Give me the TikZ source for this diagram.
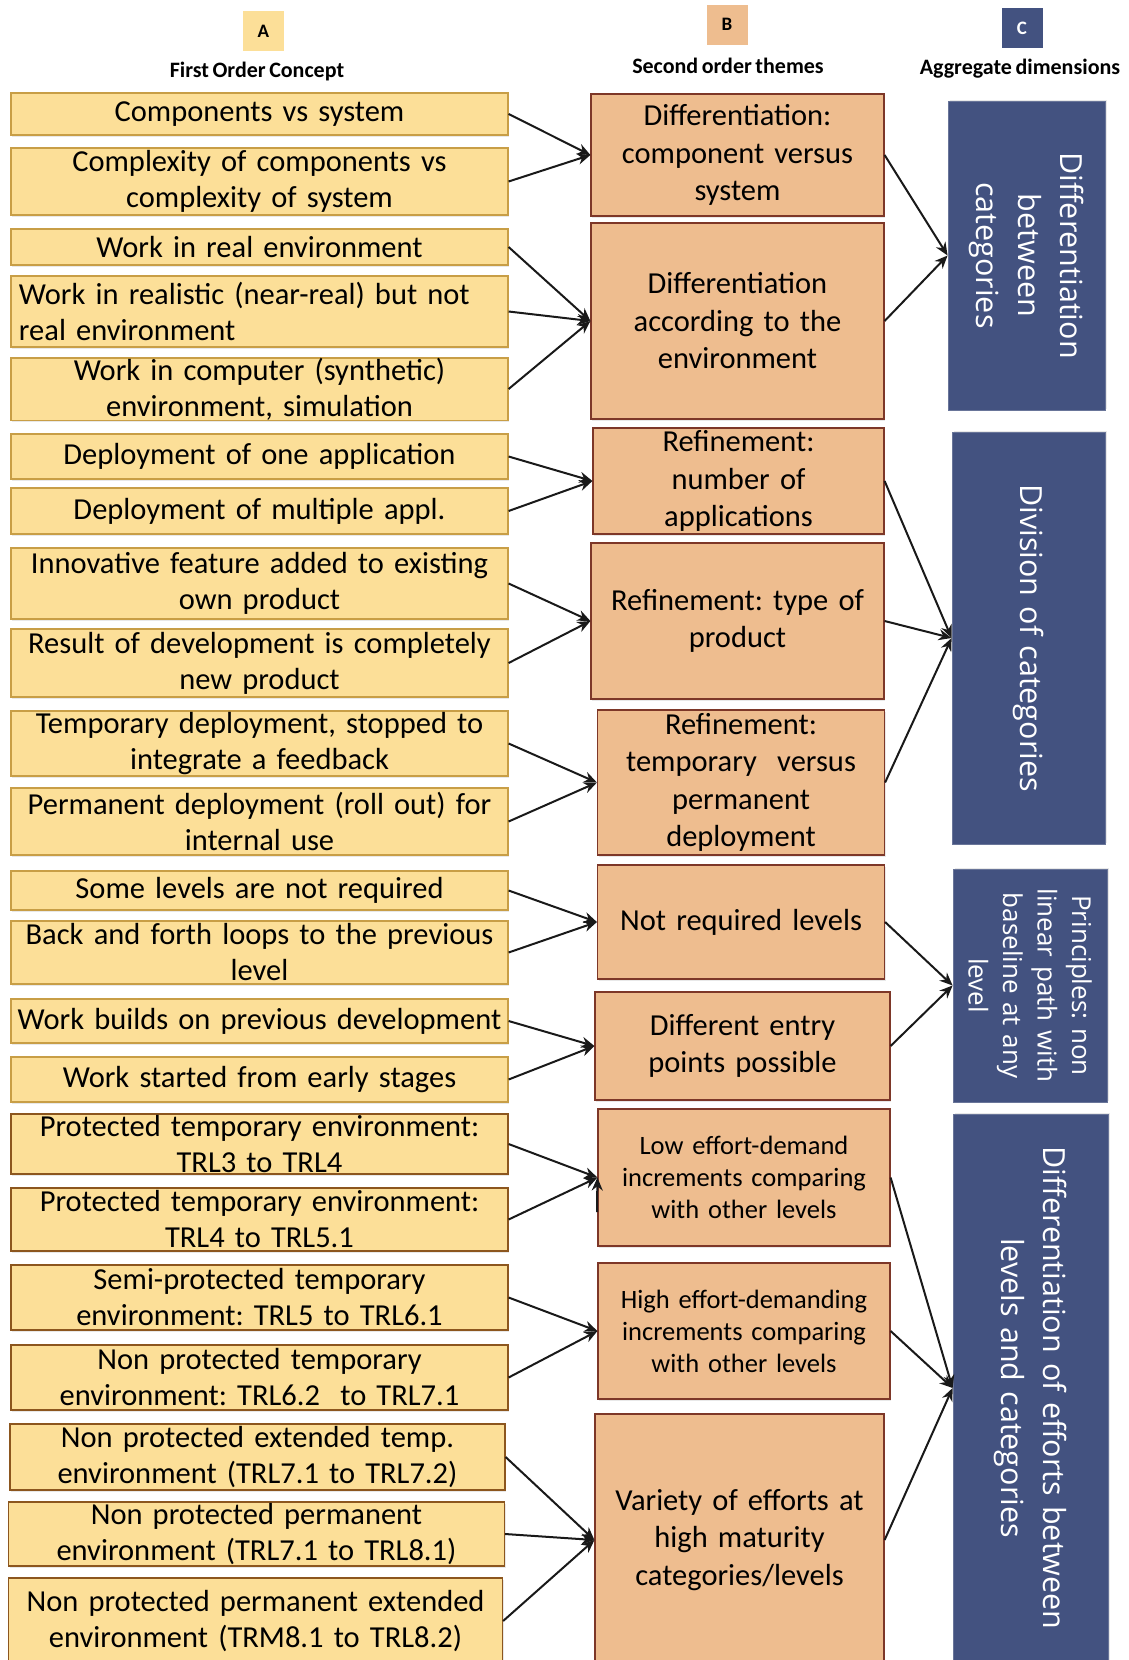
\documentclass[tikz,border=0pt]{standalone}
\usepackage{fontspec}
\setmainfont{Carlito}[WordSpace=0.72]
\newfontfamily\dimfont{Open Sans}
\frenchspacing
\definecolor{conceptfill}{RGB}{252, 223, 152}
\definecolor{conceptline}{RGB}{200, 158, 70}
\definecolor{conceptdark}{RGB}{140, 86, 30}
\definecolor{themefill}{RGB}{238, 189, 143}
\definecolor{themeline}{RGB}{125, 55, 40}
\definecolor{dimblue}{RGB}{67, 82, 128}
\usetikzlibrary{arrows.meta, shadows}

\begin{document}
\begin{tikzpicture}[x=1pt, y=-1pt,
  concept/.style={draw=conceptline, fill=conceptfill, line width=1.2pt, minimum width=497pt, text width=493pt, align=center, inner sep=0pt, font=\fontsize{30.5}{36}\selectfont, drop shadow={shadow xshift=1pt, shadow yshift=-2pt, opacity=0.18}},
  theme/.style={draw=themeline, fill=themefill, line width=1.2pt, minimum width=293pt, text width=287pt, align=center, inner sep=0pt, font=\fontsize{30.5}{37.5}\selectfont, drop shadow={shadow xshift=1pt, shadow yshift=-2pt, opacity=0.18}},
  dimension/.style={fill=dimblue, draw=dimblue!80!white, line width=0.8pt, rotate=-90, align=center, inner sep=0pt, text=white, font=\dimfont\fontsize{30.5}{42}\selectfont, drop shadow={shadow xshift=2pt, shadow yshift=1pt, opacity=0.18}},
  letterbox/.style={minimum width=41pt, minimum height=40pt, inner sep=0pt, font=\bfseries\fontsize{19}{22}\selectfont},
  headtext/.style={font=\bfseries\fontsize{22}{24}\selectfont, inner sep=0pt},
  link/.style={-{Stealth[length=13pt, width=11pt]}, line width=2pt, draw=black!90}]
  \useasboundingbox (0,0) rectangle (1128,1660);

  % Column headers
  \node[letterbox, fill=conceptfill] (hA) at (263.5,31) {A};
  \node[headtext] (tA) at (257,72) {First Order Concept};
  \node[letterbox, fill=themefill] (hB) at (727,24.5) {B};
  \node[headtext] (tB) at (728,66) {Second order themes};
  \node[letterbox, fill=dimblue, text=white] (hC) at (1022,28) {C};
  \node[headtext] (tC) at (1020,69) {Aggregate dimensions};

  % First order concepts
  \node[concept, minimum height=42pt] (fo1) at (259.5,114) {Components vs system};
  \node[concept, minimum height=67pt] (fo2) at (259.5,181.5) {Complexity of components vs\\complexity of system};
  \node[concept, minimum height=36pt] (fo3) at (259.5,247) {Work in real environment};
  \node[concept, minimum height=71pt, align=left, text width=481pt] (fo4) at (259.5,311.5) {Work in realistic (near-real) but not\\real environment};
  \node[concept, minimum height=62pt] (fo5) at (259.5,389) {Work in computer (synthetic)\\environment, simulation};
  \node[concept, minimum height=45pt] (fo6) at (259.5,456.5) {Deployment of one application};
  \node[concept, minimum height=46pt] (fo7) at (259.5,511) {Deployment of multiple appl.};
  \node[concept, minimum height=71pt] (fo8) at (259.5,583.5) {Innovative feature added to existing\\own product};
  \node[concept, minimum height=68pt] (fo9) at (259.5,663) {Result of development is completely\\new product};
  \node[concept, minimum height=65pt] (fo10) at (259.5,743.5) {Temporary deployment, stopped to\\integrate a feedback};
  \node[concept, minimum height=67pt] (fo11) at (259.5,821.5) {Permanent deployment (roll out) for\\internal use};
  \node[concept, minimum height=39pt] (fo12) at (259.5,890.5) {Some levels are not required};
  \node[concept, minimum height=63pt] (fo13) at (259.5,952.5) {Back and forth loops to the previous\\level};
  \node[concept, minimum height=44pt] (fo14) at (259.5,1021) {\mbox{Work builds on previous development}};
  \node[concept, minimum height=45pt] (fo15) at (259.5,1079.5) {Work started from early stages};
  \node[concept, draw=conceptdark, minimum height=60pt] (fo16) at (259.5,1144) {Protected temporary environment:\\TRL3 to TRL4};
  \node[concept, draw=conceptdark, minimum height=63pt] (fo17) at (259.5,1219.5) {Protected temporary environment:\\TRL4 to TRL5.1};
  \node[concept, draw=conceptdark, minimum height=65pt] (fo18) at (259.5,1297.5) {Semi-protected temporary\\environment: TRL5 to TRL6.1};
  \node[concept, draw=conceptdark, minimum height=65pt] (fo19) at (259.5,1377.5) {Non protected temporary\\environment: TRL6.2\ \ to TRL7.1};
  \node[concept, draw=conceptdark, minimum height=66pt, minimum width=495pt] (fo20) at (257.5,1457) {Non protected extended temp.\\environment (TRL7.1 to TRL7.2)};
  \node[concept, draw=conceptdark, minimum height=64pt, minimum width=496pt] (fo21) at (256.5,1534) {Non protected permanent\\environment (TRL7.1 to TRL8.1)};
  \node[concept, draw=conceptdark, minimum height=86pt, minimum width=494pt] (fo22) at (255.5,1621) {Non protected permanent extended\\environment (TRM8.1 to TRL8.2)};

  % Second order themes
  \node[theme, minimum height=122pt] (so1) at (737.5,155) {Differentiation:\\component versus\\system};
  \node[theme, minimum height=196pt] (so2) at (737.5,321) {Differentiation\\according to the\\environment};
  \node[theme, minimum height=106pt, minimum width=291pt] (so3) at (738.5,481) {Refinement:\\number of\\applications};
  \node[theme, minimum height=156pt] (so4) at (737.5,621) {Refinement: type of\\product};
  \node[theme, minimum height=145pt, minimum width=286pt] (so5) at (741,782.5) {Refinement:\\temporary\ \ versus\\permanent\\deployment};
  \node[theme, minimum height=114pt, minimum width=286pt] (so6) at (741,922) {Not required levels};
  \node[theme, minimum height=108pt, minimum width=295pt] (so7) at (742.5,1046) {Different entry\\points possible};
  \node[theme, minimum height=137pt, minimum width=292pt, font=\fontsize{26.5}{32}\selectfont] (so8) at (744,1177.5) {Low effort-demand\\increments comparing\\with other levels};
  \node[theme, minimum height=136pt, minimum width=292pt, font=\fontsize{26.5}{32}\selectfont] (so9) at (744,1331) {High effort-demanding\\increments comparing\\with other levels};
  \node[theme, minimum height=252pt, minimum width=289pt] (so10) at (739.5,1540) {Variety of efforts at\\high maturity\\categories/levels};

  % Aggregate dimensions
  \node[dimension, minimum width=309pt, minimum height=157pt, text width=295pt] (ad1) at (1026.5,255.5) {Differentiation\\between\\categories};
  \node[dimension, minimum width=412pt, minimum height=153pt, text width=395pt] (ad2) at (1028.5,638) {Division of categories};
  \node[dimension, minimum width=233pt, minimum height=154pt, text width=225pt, font=\dimfont\fontsize{26}{34.5}\selectfont] (ad3) at (1030,985.5) {Principles: non\\linear path with\\baseline at any\\level};
  \node[dimension, minimum width=548pt, minimum height=155pt, text width=530pt] (ad4) at (1030.5,1388) {Differentiation of efforts between\\levels and categories};

  % Concepts to themes
  \draw[link] (fo1.east) -- (so1.west);
  \draw[link] (fo2.east) -- (so1.west);
  \draw[link] (fo3.east) -- (so2.west);
  \draw[link] (fo4.east) -- (so2.west);
  \draw[link] (fo5.east) -- (so2.west);
  \draw[link] (fo6.east) -- (so3.west);
  \draw[link] (fo7.east) -- (so3.west);
  \draw[link] (fo8.east) -- (so4.west);
  \draw[link] (fo9.east) -- (so4.west);
  \draw[link] (fo10.east) -- (so5.west);
  \draw[link] (fo11.east) -- (so5.west);
  \draw[link] (fo12.east) -- (so6.west);
  \draw[link] (fo13.east) -- (so6.west);
  \draw[link] (fo14.east) -- (so7.west);
  \draw[link] (fo15.east) -- (so7.west);
  \draw[link] (fo16.east) -- (so8.west);
  \draw[link] (fo17.east) -- (so8.west);
  \draw[link] (fo18.east) -- (so9.west);
  \draw[link] (fo19.east) -- (so9.west);
  \draw[link] (fo20.east) -- (so10.west);
  \draw[link] (fo21.east) -- (so10.west);
  \draw[link] (fo22.east) -- (so10.west);
  \coordinate (stray) at (597,1212);
  \draw[link] (stray) -- (so8.west);

  % Themes to dimensions
  \draw[link] (so1.east) -- (ad1.south);
  \draw[link] (so2.east) -- (ad1.south);
  \draw[link] (so3.east) -- (ad2.south);
  \draw[link] (so4.east) -- (ad2.south);
  \draw[link] (so5.east) -- (ad2.south);
  \draw[link] (so6.east) -- (ad3.south);
  \draw[link] (so7.east) -- (ad3.south);
  \draw[link] (so8.east) -- (ad4.south);
  \draw[link] (so9.east) -- (ad4.south);
  \draw[link] (so10.east) -- (ad4.south);
\end{tikzpicture}
\end{document}
